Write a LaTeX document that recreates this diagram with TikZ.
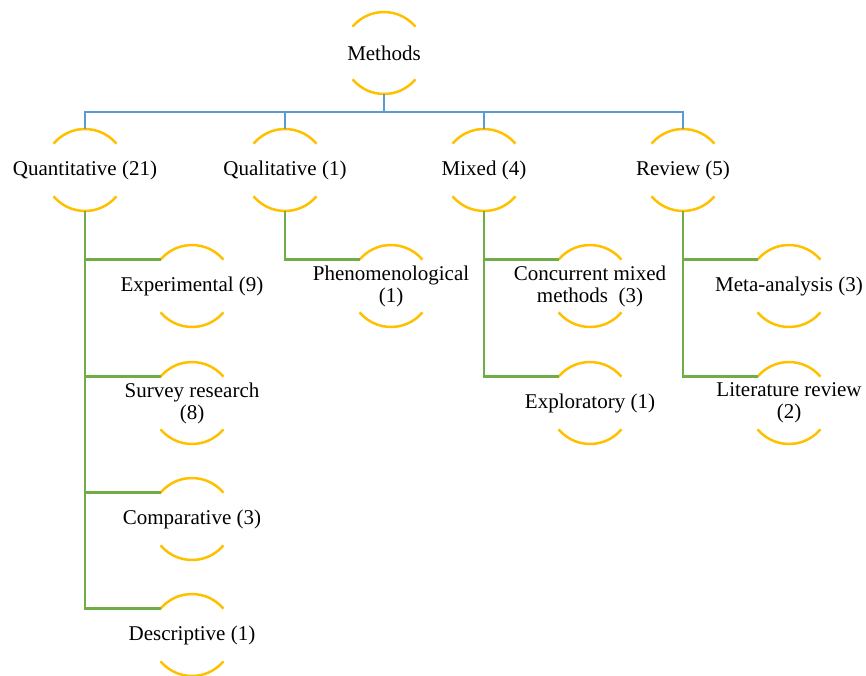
\documentclass[tikz,border=0pt]{standalone}
\usepackage{fontspec}
\setmainfont{Liberation Serif}
\definecolor{busblue}{HTML}{5B9BD5}
\definecolor{arcyellow}{HTML}{FFC000}
\definecolor{branchgreen}{HTML}{70AD47}
\tikzset{
  lbl/.style={font=\fontsize{21pt}{22pt}\selectfont, align=center, inner sep=0pt},
  arcline/.style={draw=arcyellow, line width=2.5pt},
  busline/.style={draw=busblue, line width=2.5pt},
  brline/.style={draw=branchgreen, line width=2.5pt}
}
\newcommand{\cnode}[4]{%
  \node[lbl] (#1) at (#2pt,-#3pt) {#4};
  \coordinate (#1-t) at ([shift={(90:41pt)}]#1.center);
  \coordinate (#1-b) at ([shift={(270:41pt)}]#1.center);
  \coordinate (#1-l) at ([shift={(140:41pt)}]#1.center);
  \draw[arcline] ([shift={(40:41pt)}]#1.center) arc[start angle=40,end angle=140,radius=41pt];
  \draw[arcline] ([shift={(220:41pt)}]#1.center) arc[start angle=220,end angle=320,radius=41pt];
}
\begin{document}
\begin{tikzpicture}
\useasboundingbox (0pt,0pt) rectangle (866pt,-675pt);
\cnode{m}{384}{53}{Methods}
\cnode{qn}{85}{170}{Quantitative (21)}
\cnode{ql}{285}{170}{Qualitative (1)}
\cnode{mx}{484}{170}{Mixed (4)}
\cnode{rv}{683}{170}{Review (5)}
\cnode{e1}{192}{286}{Experimental (9)}
\cnode{e2}{192}{403}{Survey research\\(8)}
\cnode{e3}{192}{519}{Comparative (3)}
\cnode{e4}{192}{635}{Descriptive (1)}
\cnode{p1}{391}{286}{Phenomenological\\(1)}
\cnode{c1}{590}{286}{Concurrent mixed\\methods\ \ (3)}
\cnode{c2}{590}{403}{Exploratory (1)}
\cnode{r1}{789}{286}{Meta-analysis (3)}
\cnode{r2}{789}{403}{Literature review\\(2)}
% bus
\coordinate (busL) at ([yshift=17pt]qn-t);
\coordinate (busR) at ([yshift=17pt]rv-t);
\draw[busline] (m-b) -- (m-b |- busL);
\draw[busline] (qn-t) -- (busL) -- (busR) -- (rv-t);
\draw[busline] (ql-t) -- (ql-t |- busL);
\draw[busline] (mx-t) -- (mx-t |- busL);
% branches
\draw[brline] (qn-b) |- (e4-l);
\draw[brline] (qn-b) |- (e1-l);
\draw[brline] (qn-b) |- (e2-l);
\draw[brline] (qn-b) |- (e3-l);
\draw[brline] (ql-b) |- (p1-l);
\draw[brline] (mx-b) |- (c2-l);
\draw[brline] (mx-b) |- (c1-l);
\draw[brline] (rv-b) |- (r2-l);
\draw[brline] (rv-b) |- (r1-l);
\end{tikzpicture}
\end{document}
